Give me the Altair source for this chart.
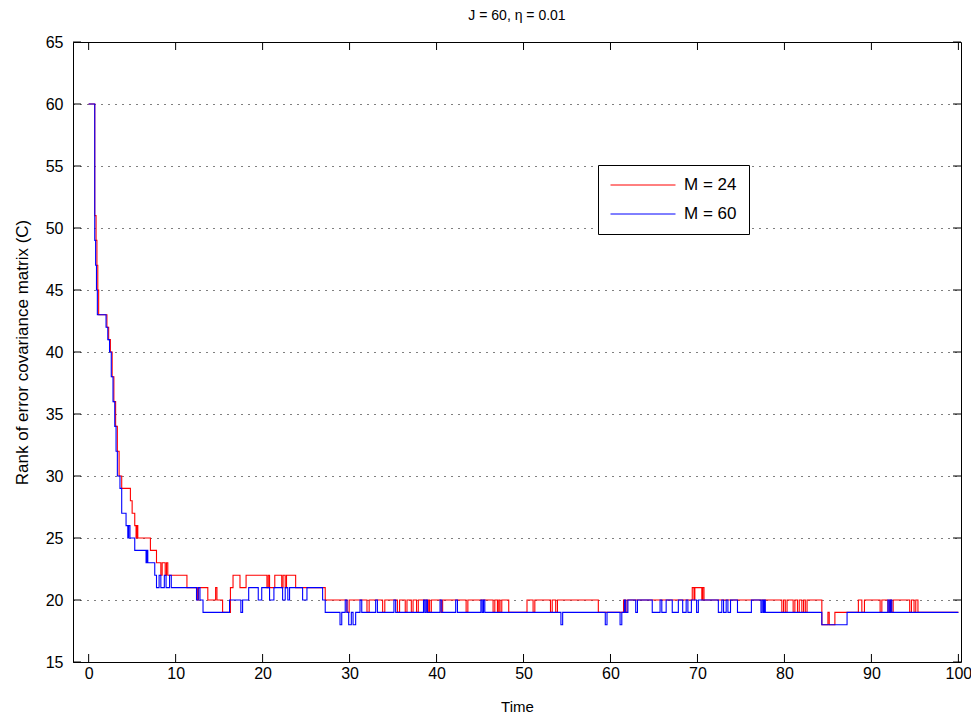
import altair as alt
import pandas as pd

# ---------------- data ----------------
RED_T = [0, 0.7, 0.85, 0.95, 1.05, 1.15, 2.1, 2.3, 2.5, 2.7, 2.9, 3.1, 3.3, 3.5, 3.8, 4.8, 5.0, 5.3, 5.45, 5.55,
         5.65, 7.1, 7.8, 8.3, 8.45, 8.8, 8.95, 9.1, 11.3, 12.5, 12.65, 13.7, 14.6, 14.75, 15.4, 16.3, 16.6, 17.4, 18.1,
         20.5, 20.65, 20.8, 21.4, 22.2, 22.35, 22.6, 22.75, 23.8, 27.2,
         29.7, 29.95, 32.0, 32.25, 33.8, 34.05, 35.5, 35.75, 36.4, 36.6, 37.1, 37.3, 37.7, 37.9, 38.9, 39.05, 39.2, 39.4,
         40.5, 40.7, 43.4, 43.6, 46.5, 46.7, 47.0, 47.15, 47.3, 47.5, 48.3, 50.4, 51.1, 51.3, 53.1, 53.3, 53.7, 53.9,
         58.6, 61.5, 61.7, 61.9, 69.4, 69.6, 69.7, 70.5, 70.6, 70.75,
         79.7, 79.9, 80.1, 80.3, 81.0, 81.2, 81.5, 81.7, 82.0, 82.2, 82.4, 82.6, 84.3, 85.0, 85.15, 85.8, 88.5,
         88.9, 89.2, 91.0, 91.2, 91.9, 92.1, 92.3, 92.5, 94.4, 94.6, 94.9, 95.1, 95.35, 100]
RED_R = [60, 51, 49, 47, 45, 43, 42, 41, 40, 38, 36, 34, 32, 30, 29, 28, 27, 26, 25, 26,
         25, 24, 23, 22, 23, 22, 23, 22, 21, 20, 21, 20, 21, 20, 19, 21, 22, 21, 22,
         21, 22, 21, 22, 21, 22, 21, 22, 21, 20,
         19, 20, 19, 20, 19, 20, 19, 20, 19, 20, 19, 20, 19, 20, 19, 20, 19, 20,
         19, 20, 19, 20, 19, 20, 19, 20, 19, 20, 19, 20, 19, 20, 19, 20, 19, 20,
         19, 20, 19, 20, 21, 20, 21, 20, 21, 20,
         19, 20, 19, 20, 19, 20, 19, 20, 19, 20, 19, 20, 18, 19, 18, 19, 20,
         19, 20, 19, 20, 19, 20, 19, 20, 19, 20, 19, 20, 19, 19]

BLUE_T = [0, 0.7, 0.8, 0.9, 1.0, 2.0, 2.2, 2.4, 2.6, 2.8, 3.0, 3.15, 3.3, 3.6, 3.8, 4.3, 4.5, 4.6, 4.75, 5.3,
          6.6, 6.7, 6.8, 7.6, 7.8, 8.1, 8.3, 8.7, 8.9, 9.3, 9.5, 12.4, 12.6, 12.8, 13.15, 16.2, 17.5, 17.7, 18.4,
          19.5, 19.9, 20.8, 21.3, 22.3, 22.6, 22.9, 23.1, 24.6, 25.1, 26.9, 27.2, 28.9, 29.1, 29.5, 29.7, 29.9, 30.2,
          30.4, 30.7, 31.2, 31.4, 33.0, 33.2, 35.1, 35.3, 38.5, 38.65, 38.8, 38.95, 40.4, 40.6, 42.2, 42.4, 45.1,
          45.25, 45.4, 45.55, 54.3, 54.5, 59.4, 59.6, 61.1, 61.3, 61.6, 61.75, 62.0, 62.9, 63.1, 64.8, 65.7, 65.9,
          66.4, 67.1, 67.8, 68.3, 68.7, 68.9, 69.3, 69.9, 70.1, 72.4, 72.8, 73.0, 73.3, 73.5, 73.8, 74.6, 76.2,
          77.3, 77.45, 77.6, 77.7, 77.8, 84.3, 87.2, 91.9, 92.05, 92.2, 92.35, 100]
BLUE_R = [60, 49, 47, 45, 43, 42, 41, 40, 38, 36, 34, 32, 30, 29, 27, 26, 25, 26, 25, 24,
          23, 24, 23, 22, 21, 22, 21, 22, 21, 22, 21, 20, 21, 20, 19, 20, 19, 20, 21,
          20, 21, 20, 21, 20, 21, 20, 21, 20, 21, 20, 19, 18, 19, 20, 19, 18, 19,
          18, 19, 20, 19, 20, 19, 20, 19, 20, 19, 20, 19, 20, 19, 20, 19, 20,
          19, 20, 19, 18, 19, 18, 19, 18, 19, 20, 19, 20, 19, 20, 19, 20, 19,
          20, 19, 20, 19, 20, 19, 20, 19, 20, 19, 20, 19, 20, 19, 20, 19, 20,
          19, 20, 19, 20, 19, 18, 19, 20, 19, 20, 19, 19]

SERIES = ["M = 24", "M = 60"]
COLORS = ["#ff0000", "#0000ff"]
X_TICKS = [0, 10, 20, 30, 40, 50, 60, 70, 80, 90, 100]
Y_TICKS = [15, 20, 25, 30, 35, 40, 45, 50, 55, 60, 65]
TITLE = "J = 60, \u03b7 = 0.01"
X_TITLE = "Time"
Y_TITLE = "Rank of error covariance matrix (C)"

X_DOMAIN = [-1.8, 100.3]
Y_DOMAIN = [15, 65]
W, H = 888, 620
FONT = "Liberation Sans, Arial, Helvetica, sans-serif"

df = pd.concat([
    pd.DataFrame({"t": RED_T, "r": RED_R, "series": SERIES[0]}),
    pd.DataFrame({"t": BLUE_T, "r": BLUE_R, "series": SERIES[1]}),
])
xt = pd.DataFrame({"v": X_TICKS})
yt = pd.DataFrame({"v": Y_TICKS})

xs = alt.Scale(domain=X_DOMAIN, nice=False, zero=False)
ys = alt.Scale(domain=Y_DOMAIN, nice=False, zero=False)
cs = alt.Scale(domain=SERIES, range=COLORS)

x_axis = alt.Axis(values=X_TICKS, ticks=False, domain=False, grid=False, labelFontSize=16,
                  labelPadding=3, title=X_TITLE, titleFontSize=15, titleFontWeight="normal",
                  titlePadding=18, labelFont=FONT, titleFont=FONT, labelColor="black", titleColor="black")
y_axis = alt.Axis(values=Y_TICKS, ticks=False, domain=False, grid=True, gridColor="black",
                  gridDash=[1, 6], gridWidth=1, gridOpacity=1, labelFontSize=16, labelPadding=10,
                  title=Y_TITLE, titleFontSize=17, titleFontWeight="normal", titlePadding=14,
                  labelFont=FONT, titleFont=FONT, labelColor="black", titleColor="black")

legend = alt.Legend(orient="none", legendX=525, legendY=123, title=None, symbolType="stroke",
                    symbolSize=4225, symbolStrokeWidth=1, clipHeight=16, rowPadding=12, padding=12,
                    labelFontSize=17, labelOffset=8, labelFont=FONT, labelColor="black",
                    fillColor="white", strokeColor="black", cornerRadius=0)

def series_layer(name):
    return alt.Chart(df).transform_filter(alt.datum.series == name).mark_line(
        interpolate="step-after", strokeWidth=1.1, clip=True).encode(
        x=alt.X("t:Q", scale=xs, axis=x_axis),
        y=alt.Y("r:Q", scale=ys, axis=y_axis),
        color=alt.Color("series:N", scale=cs, legend=legend),
    )

red = series_layer(SERIES[0])
blue = series_layer(SERIES[1])

tl = 8
bottom_ticks = alt.Chart(xt).mark_rule(color="black", strokeWidth=1).encode(
    x=alt.X("v:Q", scale=xs, axis=x_axis), y=alt.value(H), y2=alt.value(H - tl))
top_ticks = alt.Chart(xt).mark_rule(color="black", strokeWidth=1).encode(
    x=alt.X("v:Q", scale=xs, axis=x_axis), y=alt.value(0), y2=alt.value(tl))
left_ticks = alt.Chart(yt).mark_rule(color="black", strokeWidth=1).encode(
    y=alt.Y("v:Q", scale=ys, axis=y_axis), x=alt.value(0), x2=alt.value(tl))
right_ticks = alt.Chart(yt).mark_rule(color="black", strokeWidth=1).encode(
    y=alt.Y("v:Q", scale=ys, axis=y_axis), x=alt.value(W), x2=alt.value(W - tl))

chart = alt.layer(red, blue, bottom_ticks, top_ticks, left_ticks, right_ticks).properties(
    width=W, height=H,
    title=alt.TitleParams(TITLE, fontSize=14, fontWeight="normal", font=FONT, color="black", offset=11),
    autosize=alt.AutoSizeParams(type="none"),
    padding={"left": 65, "top": 34, "right": 10, "bottom": 60},
).configure(background="white").configure_view(stroke="black", strokeWidth=1)

chart.save("out.html", embed_options={"renderer": "svg", "actions": False})
